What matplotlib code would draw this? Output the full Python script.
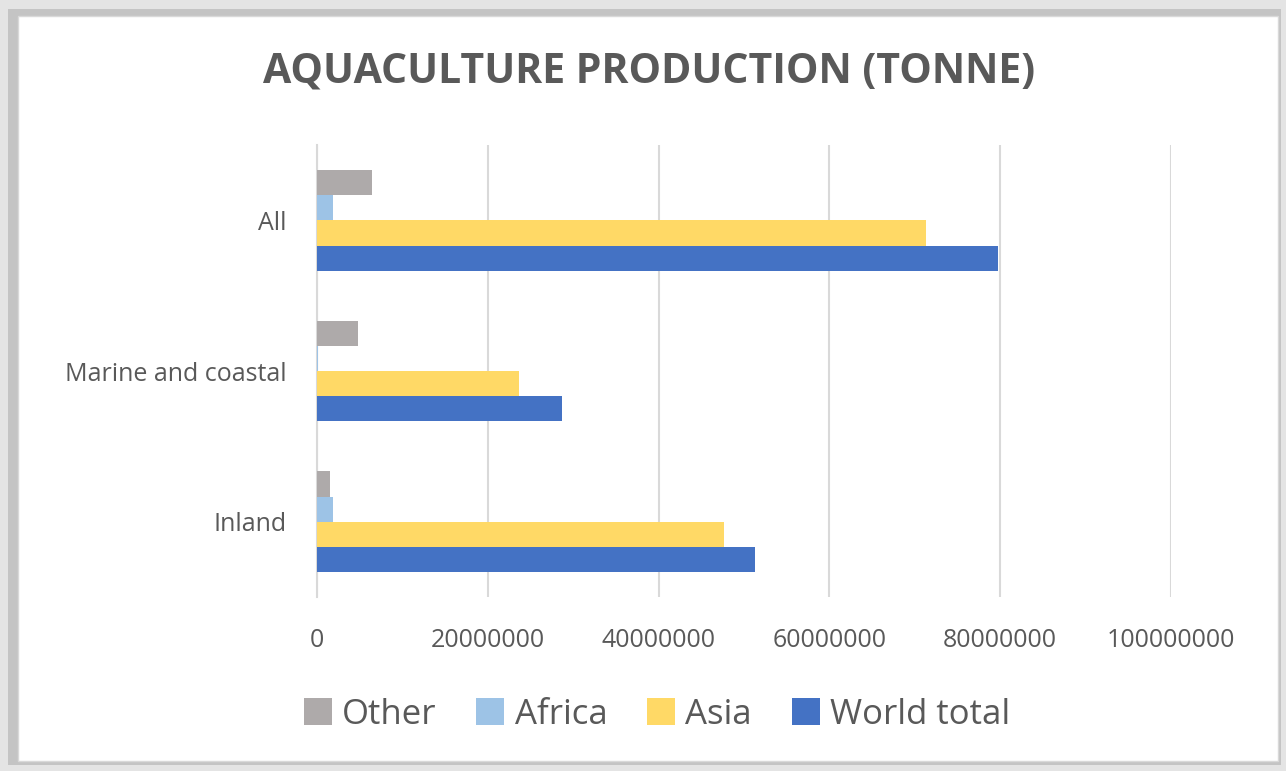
import numpy as np
import matplotlib.pyplot as plt
from matplotlib.patches import Rectangle

categories = ["Inland", "Marine and coastal", "All"]
series = ["World total", "Asia", "Africa", "Other"]
world_total = [51300000, 28700000, 79800000]
asia = [47700000, 23700000, 71300000]
africa = [1900000, 100000, 1900000]
other = [1500000, 4800000, 6400000]
colors = ["#4472c4", "#ffd966", "#9dc3e6", "#aeaaaa"]
xticks = [0, 20000000, 40000000, 60000000, 80000000, 100000000]

plt.rcParams['font.family'] = ['Open Sans', 'DejaVu Sans']
txt = "#595959"

fig = plt.figure(figsize=(12.86, 7.71), dpi=100)
# shadow frame around the card
fig.patches.append(Rectangle((0, 0), 1, 1, transform=fig.transFigure, facecolor="#e4e4e4", edgecolor="none", zorder=-3))
fig.patches.append(Rectangle((0.006, 0.008), 0.99, 0.98, transform=fig.transFigure, facecolor="#c4c4c4", edgecolor="none", zorder=-2))
fig.patches.append(Rectangle((0.014, 0.013), 0.98, 0.966, transform=fig.transFigure, facecolor="white", edgecolor="#d9d9d9", lw=1, zorder=-1))

ax = fig.add_axes([0.2465, 0.2257, 0.664, 0.586])
y = np.arange(len(categories))
h = 0.167
data = [world_total, asia, africa, other]
for i, (name, vals) in enumerate(zip(series, data)):
    ax.barh(y + (i - 1.5) * h, vals, height=h, color=colors[i], label=name, zorder=3)

ax.set_xlim(0, 100000000)
ax.set_ylim(-0.5, 2.5)
ax.set_xticks(xticks)
ax.set_xticklabels([str(v) for v in xticks])
ax.set_yticks(y)
ax.set_yticklabels(categories)
ax.tick_params(axis='both', length=0, labelsize=18, colors=txt, pad=22)
ax.tick_params(axis='y', pad=22)
ax.grid(axis='x', color="#d9d9d9", lw=1.5, zorder=0)
for s in ["top", "right", "bottom"]:
    ax.spines[s].set_visible(False)
ax.spines["left"].set_color("#d9d9d9")
ax.spines["left"].set_linewidth(1.5)

fig.text(0.505, 0.906, "AQUACULTURE PRODUCTION (TONNE)", ha="center", va="center",
         fontsize=29.5, fontweight="bold", color=txt)

handles, labels = ax.get_legend_handles_labels()
fig.legend(handles[::-1], labels[::-1], loc="center", bbox_to_anchor=(0.511, 0.073), ncol=4,
           frameon=False, fontsize=25, labelcolor=txt, handlelength=0.8, handleheight=0.8,
           handletextpad=0.3, columnspacing=1.15)

fig.savefig("out.png", dpi=100)
